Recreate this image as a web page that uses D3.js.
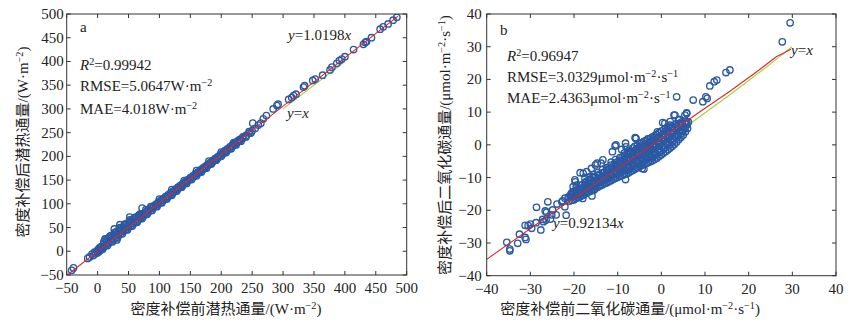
<!DOCTYPE html>
<html>
<head>
<meta charset="utf-8">
<script src="https://cdn.jsdelivr.net/npm/d3@7"></script>
<style>
  html, body { margin: 0; padding: 0; background: #fff; }
  svg { display: block; }
  text { font-family: "Liberation Serif", "Noto Sans CJK SC", serif; fill: #222; }
</style>
</head>
<body>
<svg id="chart" width="861" height="329"></svg>
<script>
// ---- data ----
const ticksA = [-50, 0, 50, 100, 150, 200, 250, 300, 350, 400, 450, 500];
const ticksB = [-40, -30, -20, -10, 0, 10, 20, 30, 40];

// panel a: latent heat flux, before vs after density compensation (W·m-2)
const pointsA = [
  [-42,-40],[-39,-35],[-16,-15],[-13,-12],[-9,-6],[-7,-9],[-5,-2],[-3,-5],[-1,1],[0,-3],[1,4],[2,-1],[3,7],[4,2],[5,9],
  [6,5],[6,10],[10,9],[10,15],[10,20],[14,13],[14,19],[14,24],[18,17],[18,23],[18,28],[22,21],[22,27],[22,33],
  [26,25],[26,31],[26,36],[30,29],[30,35],[30,41],[34,33],[34,39],[34,45],[38,37],[38,43],[38,49],
  [42,42],[42,47],[42,53],[46,46],[46,51],[46,57],[50,50],[50,55],[50,61],[54,54],[54,59],[54,64],
  [58,58],[58,63],[58,68],[62,62],[62,67],[62,72],[66,66],[66,71],[66,75],[70,70],[70,75],[70,79],
  [74,74],[74,79],[78,78],[78,83],[82,82],[82,87],[86,86],[86,91],[90,91],[90,95],[94,95],[94,99],
  [98,99],[98,103],[102,103],[102,107],[106,107],[106,111],[110,111],[110,115],[114,115],[114,119],
  [118,119],[118,123],[122,123],[122,127],[126,127],[126,131],[130,131],[130,135],[134,135],[134,139],
  [138,139],[138,143],[142,144],[142,147],[146,148],[146,151],[150,152],[150,155],[154,156],[154,159],
  [158,160],[158,163],[162,164],[162,167],[166,168],[166,171],[170,172],[170,175],[174,176],[174,179],
  [178,180],[178,183],[182,184],[182,187],[186,188],[186,191],[190,192],[190,195],[194,196],[194,199],
  [198,200],[198,203],[202,204],[202,207],[206,209],[206,212],[210,213],[210,216],[214,217],[214,220],
  [218,221],[218,224],[222,225],[222,228],[226,229],[226,232],[230,233],[230,236],[235,238],[235,241],
  [240,244],[245,249],[245,252],[250,254],[255,259],[260,266],[264,270],[251,270],
  [268,279],[273,286],[284,300],[290,307],[292,310],[309,320],[314,324],[317,328],[321,331],[333,346],
  [335,349],[348,360],[352,363],[364,371],[376,382],[379,388],[387,396],[391,402],[395,405],[400,410],
  [414,425],[430,436],[433,440],[435,442],[443,450],[457,468],[462,473],[470,479],[478,487],[484,493],
  [27,47],[36,56],[52,72],[72,91],[31,24]
];
// second layer of the dense band (below the line and the bulge above it)
const bandA = [
  [8,4],[16,12],[24,20],[32,28],[40,37],[48,45],[56,53],[64,61],[72,69],[80,78],[88,86],[96,94],
  [104,102],[112,110],[120,118],[128,127],[136,135],[144,143],[152,151],[160,159],[168,167],[176,175],
  [184,184],[192,192],[200,200],[208,208],[216,216],[224,224],[232,232],[240,241],[248,249],
  [12,26],[20,32],[28,40],[36,50],[44,57],[52,66],[60,71],[68,78],[78,88],[86,94],
  [100,110],[120,130],[140,149],[160,170],[180,190],[200,209],[220,229]
];
const fitA = [[-50,-51],[486,495.6]];      // y = 1.0198x (red)
const oneToOneA = [[300,300],[400,400]];   // y = x (green, visible part)

// panel b: CO2 flux, before vs after density compensation (µmol·m-2·s-1)
const coreB = [
  [-21,-17.2],[-21.3,-16],[-20.8,-15.2],[-20,-16.8],[-19.8,-15.6],[-20.2,-14.4],[-19,-16.1],[-19.2,-15],[-18.9,-13.8],
  [-18,-15.4],[-18.1,-14.2],[-17.9,-13.1],[-18.2,-12.2],[-17,-14.6],[-17.2,-13.5],[-16.8,-12.3],[-17.1,-11.2],
  [-16,-14],[-16.1,-12.9],[-15.9,-11.7],[-16.2,-10.5],[-15,-13.2],[-15.2,-12.1],[-14.9,-11],[-15.1,-9.8],
  [-14,-12.5],[-14.1,-11.4],[-13.9,-10.2],[-14.2,-9],[-13,-11.8],[-13.2,-10.7],[-12.9,-9.5],[-13.1,-8.3],
  [-12,-11.2],[-12.1,-10],[-11.9,-8.8],[-12.2,-7.6],[-12,-6.8],[-11,-10.5],[-11.2,-9.3],[-10.9,-8.1],[-11.1,-7],[-10.8,-5.9],
  [-10,-9.9],[-10.1,-8.7],[-9.9,-7.5],[-10.2,-6.3],[-10,-5.1],[-9,-9.4],[-9.2,-8.2],[-8.9,-7],[-9.1,-5.8],[-8.8,-4.6],[-9,-3.8],
  [-8,-8.9],[-8.1,-7.7],[-7.9,-6.5],[-8.2,-5.3],[-8,-4.1],[-7.8,-3],[-7,-8.1],[-7.2,-6.9],[-6.9,-5.7],[-7.1,-4.5],[-6.8,-3.3],[-7,-2.1],
  [-6,-7.4],[-6.1,-6.2],[-5.9,-5],[-6.2,-3.8],[-6,-2.6],[-5.8,-1.4],[-6.1,-0.5],
  [-5,-6.6],[-5.2,-5.4],[-4.9,-4.2],[-5.1,-3],[-4.8,-1.8],[-5,-0.6],[-4.9,0.4],
  [-4,-6],[-4.1,-4.8],[-3.9,-3.6],[-4.2,-2.4],[-4,-1.2],[-3.8,0],[-4,1.1],
  [-3,-5.4],[-3.2,-4.2],[-2.9,-3],[-3.1,-1.8],[-2.8,-0.6],[-3,0.6],[-3.1,1.8],
  [-2,-4.8],[-2.1,-3.6],[-1.9,-2.4],[-2.2,-1.2],[-2,0],[-1.8,1.2],[-2,2.4],
  [-1,-4],[-1.2,-2.8],[-0.9,-1.6],[-1.1,-0.4],[-0.8,0.8],[-1,2],[-1.1,3.2],[-0.9,4],
  [0,-3],[-0.1,-1.8],[0.1,-0.6],[-0.2,0.6],[0,1.8],[0.2,3],[0,4.2],
  [1,-2],[0.9,-0.8],[1.1,0.4],[0.8,1.6],[1,2.8],[1.2,4],[1,5],
  [2,-1],[1.9,0.2],[2.1,1.4],[1.8,2.6],[2,3.8],[2.2,5],[2,6],
  [3,0.2],[2.9,1.4],[3.1,2.6],[2.8,3.8],[3,5],[3.2,6.2],
  [4,1.6],[3.9,2.8],[4.1,4],[3.8,5.2],[4,6.4],[5,3],[4.9,4.2],[5.1,5.4],[4.8,6.6],[6,5],[5.9,6.2],[6.2,7]
];
// interleaved layer of the dense core
const coreB2 = [
  [-20.5,-16.9],[-20.5,-15.7],[-20.5,-14.6],[-19.5,-16.3],[-19.5,-15.1],[-19.5,-13.9],[-19.5,-12.9],
  [-18.5,-15.8],[-18.5,-14.6],[-18.5,-13.4],[-18.5,-12.4],[-17.5,-15],[-17.5,-13.8],[-17.5,-12.6],[-17.5,-11.5],
  [-16.5,-14.3],[-16.5,-13.1],[-16.5,-11.9],[-16.5,-10.8],[-16.5,-9.8],[-15.5,-13.6],[-15.5,-12.4],[-15.5,-11.2],[-15.5,-10.1],[-15.5,-9.1],
  [-14.5,-12.9],[-14.5,-11.7],[-14.5,-10.5],[-14.5,-9.4],[-14.5,-8.4],[-13.5,-12.2],[-13.5,-11],[-13.5,-9.8],[-13.5,-8.7],[-13.5,-7.6],
  [-12.5,-11.6],[-12.5,-10.4],[-12.5,-9.2],[-12.5,-8],[-12.5,-7],
  [-11.5,-10.9],[-11.5,-9.7],[-11.5,-8.5],[-11.5,-7.3],[-11.5,-6.2],[-11.5,-5.3],
  [-10.5,-10.2],[-10.5,-9],[-10.5,-7.8],[-10.5,-6.6],[-10.5,-5.5],[-10.5,-4.5],
  [-9.5,-9.6],[-9.5,-8.4],[-9.5,-7.2],[-9.5,-6],[-9.5,-4.9],[-9.5,-3.9],
  [-8.5,-9.1],[-8.5,-7.9],[-8.5,-6.7],[-8.5,-5.5],[-8.5,-4.4],[-8.5,-3.4],[-8.5,-2.5],
  [-7.5,-8.5],[-7.5,-7.3],[-7.5,-6.1],[-7.5,-4.9],[-7.5,-3.8],[-7.5,-2.7],[-7.5,-1.8],
  [-6.5,-7.8],[-6.5,-6.6],[-6.5,-5.4],[-6.5,-4.2],[-6.5,-3.1],[-6.5,-2],[-6.5,-1],
  [-5.5,-7],[-5.5,-5.8],[-5.5,-4.6],[-5.5,-3.4],[-5.5,-2.3],[-5.5,-1.2],[-5.5,-0.1],
  [-4.5,-6.3],[-4.5,-5.1],[-4.5,-3.9],[-4.5,-2.7],[-4.5,-1.6],[-4.5,-0.5],[-4.5,0.6],
  [-3.5,-5.7],[-3.5,-4.5],[-3.5,-3.3],[-3.5,-2.1],[-3.5,-1],[-3.5,0.1],[-3.5,1.3],
  [-2.5,-5.1],[-2.5,-3.9],[-2.5,-2.7],[-2.5,-1.5],[-2.5,-0.4],[-2.5,0.8],[-2.5,2],
  [-1.5,-4.4],[-1.5,-3.2],[-1.5,-2],[-1.5,-0.8],[-1.5,0.4],[-1.5,1.6],[-1.5,2.8],
  [-0.5,-3.5],[-0.5,-2.3],[-0.5,-1.1],[-0.5,0.1],[-0.5,1.3],[-0.5,2.5],[-0.5,3.7],
  [0.5,-2.5],[0.5,-1.3],[0.5,-0.1],[0.5,1.1],[0.5,2.3],[0.5,3.5],[0.5,4.6],
  [1.5,-1.5],[1.5,-0.3],[1.5,0.9],[1.5,2.1],[1.5,3.3],[1.5,4.5],[1.5,5.5],
  [2.5,-0.4],[2.5,0.8],[2.5,2],[2.5,3.2],[2.5,4.4],[2.5,5.6],
  [3.5,0.9],[3.5,2.1],[3.5,3.3],[3.5,4.5],[3.5,5.7],[3.5,6.5],
  [4.5,2.3],[4.5,3.5],[4.5,4.7],[4.5,5.9],[4.5,6.9],[5.5,4],[5.5,5.2],[5.5,6.4],[5.5,7.2]
];
const outliersB = [
  [29.5,37.3],[27.7,31.5],[15.7,22.9],[14.8,22.1],[12.7,19.8],[12.1,19.3],[11.1,18],[10.2,14.7],[9.5,13.2],[10.5,14.2],
  [7.3,13.7],[3.5,14.7],[5.8,9.8],[5.4,9.1],[3.1,9.1],[2.9,9.1],[3.9,7.6],[4.1,7.8],[5.8,7.1],[5.8,9.6],[0.3,6.8],[0.8,6.6],[2,7.1],
  [-6,2.2],[-4.4,-7.2],[-4,-7.4],[-8.2,-10.6],[-5.9,2],[-8.1,-0.6],[-10.6,-0.35],[-9.1,-1.4],
  [-5.8,2],[-8.2,0.5],[-10.4,0],[-11.2,-2.1],[-7.4,-2.1],[-13.4,-4.6],[-14.7,-5.6],[-15.1,-6.15],[-13.8,-5.6],
  [-16,-7.2],[-17.1,-8.2],[-17.9,-8.7],[-18.6,-8.5],[-19.8,-10.7],[-19.4,-12.3],[-20.1,-14.3],[-22.1,-16.3],[-22.8,-17.4],
  [-15.6,-9.7],[-12.9,-9.2],[-17.5,-10.2],
  [-35.4,-29.8],[-34.7,-31.85],[-34.7,-32.4],[-32.9,-30.1],[-32.5,-27.3],[-31.2,-28.3],[-31,-28.9],[-31.2,-24.6],[-30.5,-24.7],
  [-30,-24.2],[-29.7,-25.5],[-28.7,-23.8],[-28.6,-19.1],[-27.6,-26],[-27,-23.5],[-27.2,-22.8],[-26.4,-23],[-26,-17.4],
  [-26.3,-20.6],[-26.6,-20.2],[-25.4,-22.7],[-23.9,-18.1],[-24.9,-19.9],[-25.1,-21.4],[-24.1,-21.4],[-22.6,-17.1],
  [-21.8,-21.5],[-22.1,-18.9],[-20.9,-15.85],[-20.5,-15],[-20.2,-12.8],[-19.7,-11.3],[-19.2,-13.8],[-18,-16.4],[-18,-15.3],
  [-17.3,-14.3],[-15.9,-15.6],[-15.4,-13.8],[-15,-12.3],[-16.9,-11.8],[-16.1,-13.3]
];
const fitB = [[-40,-35],[-23,-19],[-12.7,-9.8],[8.5,9.8],[15.7,16.4],[22,22.5],[26.4,27],[27.6,27.8],[29.7,29.2]];  // y = 0.92134x (red)
const oneToOneB = [[0,0],[6,5.9],[15.7,15.3],[23.4,23.1],[27.6,27.5],[29.9,30]];                                     // y = x (green)

// ---- styles ----
const BLUE = "#2b59a4", RED = "#d8262f", GREEN = "#a9cf3a", AXIS = "#333";
const svg = d3.select("#chart");

// write a text made of segments: {t, it (italic), sup (superscript)}
function richText(g, x, y, segs, opts) {
  opts = opts || {};
  const size = opts.size || 14;
  const t = g.append("text").attr("x", x).attr("y", y)
    .attr("font-size", size)
    .attr("text-anchor", opts.anchor || "start");
  if (opts.transform) t.attr("transform", opts.transform);
  let raised = false;
  segs.forEach(s => {
    const ts = t.append("tspan").text(s.t);
    if (s.it) ts.attr("font-style", "italic");
    if (s.sup && !raised) { ts.attr("dy", -5).attr("font-size", size * 0.68); raised = true; }
    else if (s.sup) { ts.attr("font-size", size * 0.68); }
    else if (raised) { ts.attr("dy", 5); raised = false; }
  });
  return t;
}

function panel(cfg) {
  const x = d3.scaleLinear().domain(cfg.domain).range([cfg.left, cfg.right]);
  const y = d3.scaleLinear().domain(cfg.domain).range([cfg.bottom, cfg.top]);
  const g = svg.append("g");

  const clipId = "clip-" + cfg.name;
  svg.append("clipPath").attr("id", clipId).append("rect")
    .attr("x", cfg.left).attr("y", cfg.top)
    .attr("width", cfg.right - cfg.left).attr("height", cfg.bottom - cfg.top);
  const plot = g.append("g").attr("clip-path", `url(#${clipId})`);

  const line = d3.line().x(d => x(d[0])).y(d => y(d[1]));

  // green 1:1 line
  plot.append("path").datum(cfg.oneToOne).attr("d", line)
    .attr("fill", "none").attr("stroke", GREEN).attr("stroke-width", 1.1);

  // points (hollow circles)
  cfg.points.forEach(set => {
    plot.selectAll(null).data(set).enter().append("circle")
      .attr("cx", d => x(d[0])).attr("cy", d => y(d[1])).attr("r", 3.2)
      .attr("fill", "none").attr("stroke", BLUE).attr("stroke-width", 1.35);
  });

  // red regression line on top
  plot.append("path").datum(cfg.fit).attr("d", line)
    .attr("fill", "none").attr("stroke", RED).attr("stroke-width", 1.1);

  // axes: inward ticks on all four sides
  const tl = 4;
  const ax = g.append("g").attr("stroke", AXIS).attr("stroke-width", 1);
  ax.append("rect").attr("x", cfg.left).attr("y", cfg.top)
    .attr("width", cfg.right - cfg.left).attr("height", cfg.bottom - cfg.top).attr("fill", "none");
  cfg.ticks.forEach(v => {
    ax.append("line").attr("x1", x(v)).attr("x2", x(v)).attr("y1", cfg.bottom).attr("y2", cfg.bottom - tl);
    ax.append("line").attr("x1", x(v)).attr("x2", x(v)).attr("y1", cfg.top).attr("y2", cfg.top + tl);
    ax.append("line").attr("y1", y(v)).attr("y2", y(v)).attr("x1", cfg.left).attr("x2", cfg.left + tl);
    ax.append("line").attr("y1", y(v)).attr("y2", y(v)).attr("x1", cfg.right).attr("x2", cfg.right - tl);
  });
  const fmt = d3.format("d");
  g.selectAll(null).data(cfg.ticks).enter().append("text")
    .attr("x", d => x(d)).attr("y", cfg.bottom + 18).attr("text-anchor", "middle")
    .attr("font-size", 15).text(d => fmt(d));
  g.selectAll(null).data(cfg.ticks).enter().append("text")
    .attr("x", cfg.left - cfg.yLabelGap).attr("y", d => y(d) + 5).attr("text-anchor", "end")
    .attr("font-size", 15).text(d => fmt(d));

  // axis titles
  richText(g, cfg.xTitle.x, 314, cfg.xTitle.segs, { size: 15, anchor: "middle" });
  richText(g, 0, 0, cfg.yTitle.segs, {
    size: 15, anchor: "middle",
    transform: `translate(${cfg.yTitle.x},${cfg.yTitle.y}) rotate(-90)`
  });

  // annotations
  cfg.notes.forEach(n => richText(g, n.x, n.y, n.segs, { size: 15 }));
}

panel({
  name: "a", domain: [-50, 500], ticks: ticksA,
  left: 66.7, right: 406.7, top: 14, bottom: 275, yLabelGap: 3,
  points: [pointsA, bandA], fit: fitA, oneToOne: oneToOneA,
  xTitle: { x: 226, segs: [{ t: "密度补偿前潜热通量/(W·m" }, { t: "−2", sup: true }, { t: ")" }] },
  yTitle: { x: 28, y: 142, segs: [{ t: "密度补偿后潜热通量/(W·m" }, { t: "−2", sup: true }, { t: ")" }] },
  notes: [
    { x: 80, y: 32, segs: [{ t: "a" }] },
    { x: 80, y: 70, segs: [{ t: "R", it: true }, { t: "2", sup: true }, { t: "=0.99942" }] },
    { x: 80, y: 91, segs: [{ t: "RMSE=5.0647W·m" }, { t: "−2", sup: true }] },
    { x: 80, y: 114, segs: [{ t: "MAE=4.018W·m" }, { t: "−2", sup: true }] },
    { x: 288, y: 40, segs: [{ t: "y", it: true }, { t: "=1.0198" }, { t: "x", it: true }] },
    { x: 287, y: 118, segs: [{ t: "y", it: true }, { t: "=" }, { t: "x", it: true }] }
  ]
});

panel({
  name: "b", domain: [-40, 40], ticks: ticksB,
  left: 486.7, right: 836, top: 14, bottom: 275.7, yLabelGap: 5,
  points: [coreB, coreB2, outliersB], fit: fitB, oneToOne: oneToOneB,
  xTitle: { x: 630, segs: [{ t: "密度补偿前二氧化碳通量/(μmol·m" }, { t: "−2", sup: true }, { t: "·s" }, { t: "−1", sup: true }, { t: ")" }] },
  yTitle: { x: 450, y: 145, segs: [{ t: "密度补偿后二氧化碳通量/(μmol·m" }, { t: "−2", sup: true }, { t: "·s" }, { t: "−1", sup: true }, { t: ")" }] },
  notes: [
    { x: 500, y: 35, segs: [{ t: "b" }] },
    { x: 507, y: 61, segs: [{ t: "R", it: true }, { t: "2", sup: true }, { t: "=0.96947" }] },
    { x: 507, y: 82, segs: [{ t: "RMSE=3.0329μmol·m" }, { t: "−2", sup: true }, { t: "·s" }, { t: "−1", sup: true }] },
    { x: 507, y: 103, segs: [{ t: "MAE=2.4363μmol·m" }, { t: "−2", sup: true }, { t: "·s" }, { t: "−1", sup: true }] },
    { x: 553, y: 228, segs: [{ t: "y", it: true }, { t: "=0.92134" }, { t: "x", it: true }] },
    { x: 791, y: 55, segs: [{ t: "y", it: true }, { t: "=" }, { t: "x", it: true }] }
  ]
});
</script>
</body>
</html>
